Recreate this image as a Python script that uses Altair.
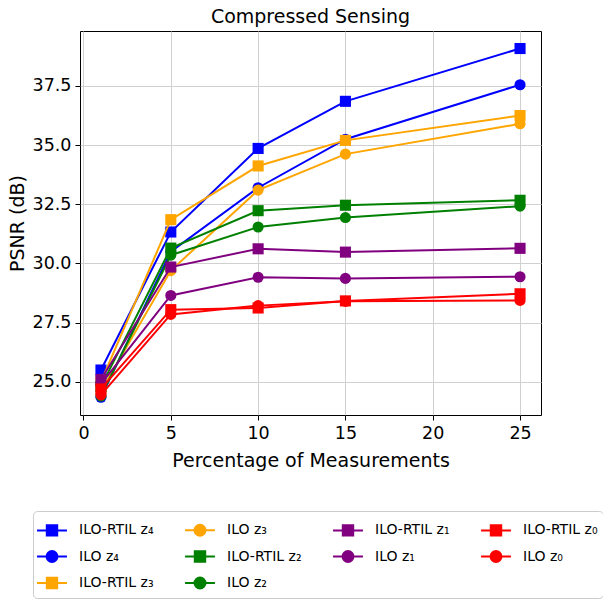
import altair as alt
import pandas as pd

x_vals = [1, 5, 10, 15, 25]

rtil_z4 = [25.50, 31.33, 34.86, 36.85, 39.08]
ilo_z4 = [24.35, 30.50, 33.20, 35.25, 37.55]
rtil_z3 = [25.00, 31.85, 34.12, 35.20, 36.25]
ilo_z3 = [24.60, 29.70, 33.10, 34.62, 35.90]
rtil_z2 = [24.80, 30.65, 32.23, 32.46, 32.67]
ilo_z2 = [24.40, 30.35, 31.54, 31.94, 32.42]
rtil_z1 = [25.10, 29.85, 30.62, 30.48, 30.64]
ilo_z1 = [24.90, 28.65, 29.42, 29.37, 29.44]
rtil_z0 = [24.70, 28.05, 28.12, 28.42, 28.72]
ilo_z0 = [24.45, 27.85, 28.22, 28.40, 28.44]

series_names = ["ILO-RTIL z₄", "ILO z₄", "ILO-RTIL z₃", "ILO z₃", "ILO-RTIL z₂",
                "ILO z₂", "ILO-RTIL z₁", "ILO z₁", "ILO-RTIL z₀", "ILO z₀"]
series_values = [rtil_z4, ilo_z4, rtil_z3, ilo_z3, rtil_z2,
                 ilo_z2, rtil_z1, ilo_z1, rtil_z0, ilo_z0]
series_colors = ["#0000ff", "#0000ff", "#ffa500", "#ffa500", "#008000",
                 "#008000", "#800080", "#800080", "#ff0000", "#ff0000"]
series_kind = ["square", "circle"] * 5

# domain order chosen so the 4-column legend reads column-major like the original
legend_order = ["ILO-RTIL z₄", "ILO z₄", "ILO z₀", "ILO z₃", "ILO-RTIL z₂",
                "ILO-RTIL z₃", "ILO-RTIL z₁", "ILO z₁", "ILO z₂", "ILO-RTIL z₀"]

SQ_PATH = "M-1.15,0H1.15M-0.4,-0.4H0.4V0.4H-0.4Z"
CI_PATH = "M-1.15,0H1.15M0.42,0A0.42,0.42 0 1,1 -0.42,0A0.42,0.42 0 1,1 0.42,0Z"

rows = []
for i, (name, vals, kind) in enumerate(zip(series_names, series_values, series_kind)):
    for j, (xv, yv) in enumerate(zip(x_vals, vals)):
        rows.append({"series": name, "x": xv, "y": yv, "kind": kind})
df = pd.DataFrame(rows)

color_of = dict(zip(series_names, series_colors))
kind_of = dict(zip(series_names, series_kind))
legend_colors = [color_of[s] for s in legend_order]
legend_paths = [SQ_PATH if kind_of[s] == "square" else CI_PATH for s in legend_order]

xenc = alt.X("x:Q", scale=alt.Scale(domain=[-0.2, 26.2], nice=False, zero=False),
             axis=alt.Axis(values=[0, 5, 10, 15, 20, 25], format="d",
                           title="Percentage of Measurements"))
yenc = alt.Y("y:Q", scale=alt.Scale(domain=[23.6, 39.82], nice=False, zero=False),
             axis=alt.Axis(values=[25, 27.5, 30, 32.5, 35, 37.5], format=".1f",
                           title="PSNR (dB)"))
color_scale = alt.Scale(domain=legend_order, range=legend_colors)

leg = alt.Legend(title=None, orient="none", legendX=-47, legendY=480, columns=4,
                 symbolSize=676, symbolStrokeWidth=2, symbolOpacity=1,
                 labelFont="DejaVu Sans", labelFontSize=14, labelColor="black",
                 labelOffset=13, labelLimit=300, rowPadding=2.5, columnPadding=27,
                 padding=5, strokeColor="#cccccc", fillColor="white",
                 cornerRadius=4, symbolLimit=0)

legend_layer = alt.Chart(df).mark_point(filled=True, opacity=0).encode(
    x=xenc, y=yenc,
    color=alt.Color("series:N", scale=color_scale, legend=leg),
    stroke=alt.Stroke("series:N", scale=color_scale, legend=leg),
    shape=alt.Shape("series:N", scale=alt.Scale(domain=legend_order, range=legend_paths), legend=leg),
)

layers = [legend_layer]
for name, kind in zip(series_names, series_kind):
    base = alt.Chart(df).transform_filter(alt.datum.series == name)
    layers.append(base.mark_line(strokeWidth=2).encode(
        x=xenc, y=yenc,
        color=alt.Color("series:N", scale=color_scale, legend=None),
    ))
    layers.append(base.mark_point(filled=True, size=123, opacity=1, shape=kind).encode(
        x=xenc, y=yenc,
        color=alt.Color("series:N", scale=color_scale, legend=None),
    ))

chart = alt.layer(*layers).properties(
    width=461, height=384,
    title=alt.Title("Compressed Sensing", font="DejaVu Sans", fontSize=19,
                    fontWeight="normal", color="black", offset=4),
    padding={"left": 80, "top": 31, "right": 62, "bottom": 184},
    autosize=alt.AutoSizeParams(type="none"),
).configure_view(stroke="black", strokeWidth=1).configure_axis(
    labelFont="DejaVu Sans", labelFontSize=17.5, labelColor="black",
    titleFont="DejaVu Sans", titleFontSize=19, titleFontWeight="normal", titleColor="black",
    tickColor="black", tickSize=5, tickWidth=1, domain=False,
    grid=True, gridColor="#d0d0d0", gridWidth=1, labelPadding=4,
).configure_axisX(titlePadding=10).configure_axisY(titlePadding=4.5)

chart.save("out.html", embed_options={"renderer": "svg", "actions": False})
